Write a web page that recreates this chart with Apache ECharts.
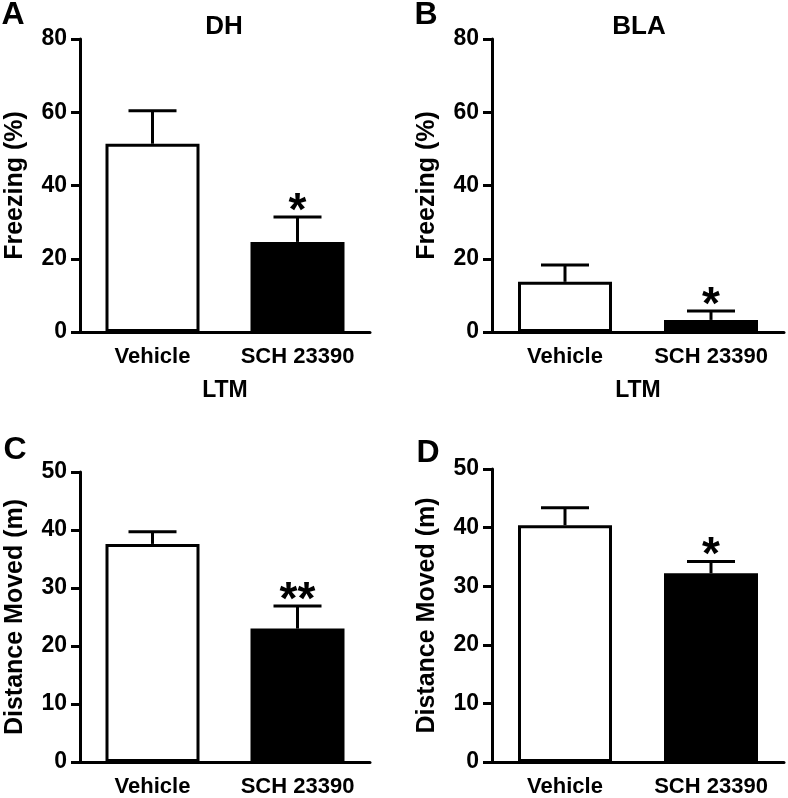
<!DOCTYPE html>
<html><head><meta charset="utf-8">
<script src="https://cdn.jsdelivr.net/npm/echarts@6/dist/echarts.min.js"></script>
<style>html,body{margin:0;padding:0;background:#fff}#c{width:788px;height:798px}</style>
</head><body><div id="c"></div>
<script>
const categories = ['Vehicle', 'SCH 23390'];
const dhFreezeMean = [51.4, 24.6];
const dhFreezeSem = [9.0, 6.8];
const blaFreezeMean = [13.7, 3.3];
const blaFreezeSem = [4.6, 2.4];
const dhDistMean = [37.6, 23.0];
const dhDistSem = [2.1, 3.9];
const blaDistMean = [40.4, 32.2];
const blaDistSem = [3.0, 2.0];
const sigA = ['', '*'];
const sigB = ['', '*'];
const sigC = ['', '**'];
const sigD = ['', '*'];
const freezeTicks = {min: 0, max: 80, interval: 20};
const distTicks = {min: 0, max: 50, interval: 10};

const FONT = "'Liberation Sans', Arial, sans-serif";
const grids = [
  {left: 80, right: 418, top: 39, bottom: 466},
  {left: 492, right: 4, top: 39, bottom: 466},
  {left: 80, right: 418, top: 472, bottom: 35},
  {left: 492, right: 4, top: 469, bottom: 35}
];
const panels = [
  {mean: dhFreezeMean, sem: dhFreezeSem, sig: sigA, ticks: freezeTicks, yName: 'Freezing (%)', xName: 'LTM'},
  {mean: blaFreezeMean, sem: blaFreezeSem, sig: sigB, ticks: freezeTicks, yName: 'Freezing (%)', xName: 'LTM'},
  {mean: dhDistMean, sem: dhDistSem, sig: sigC, ticks: distTicks, yName: 'Distance Moved (m)', xName: ''},
  {mean: blaDistMean, sem: blaDistSem, sig: sigD, ticks: distTicks, yName: 'Distance Moved (m)', xName: ''}
];

const xAxes = [], yAxes = [], series = [];
panels.forEach((p, i) => {
  xAxes.push({
    type: 'category', gridIndex: i, data: categories,
    axisLine: {lineStyle: {color: '#000', width: 3}},
    axisTick: {show: false},
    axisLabel: {interval: 0, hideOverlap: false, color: '#000', fontFamily: FONT, fontWeight: 'bold', fontSize: 22, margin: 14},
    name: p.xName, nameLocation: 'middle', nameGap: 47,
    nameTextStyle: {color: '#000', fontFamily: FONT, fontWeight: 'bold', fontSize: 23}
  });
  yAxes.push({
    type: 'value', gridIndex: i, min: p.ticks.min, max: p.ticks.max, interval: p.ticks.interval,
    splitLine: {show: false},
    axisLine: {show: true, lineStyle: {color: '#000', width: 3}},
    axisTick: {show: true, length: 9, lineStyle: {color: '#000', width: 3}},
    axisLabel: {color: '#000', fontFamily: FONT, fontWeight: 'bold', fontSize: 23, margin: 13},
    name: p.yName, nameLocation: 'middle', nameRotate: 90, nameGap: 52,
    nameTextStyle: {color: '#000', fontFamily: FONT, fontWeight: 'bold', fontSize: 25}
  });
  series.push({
    type: 'bar', xAxisIndex: i, yAxisIndex: i, barWidth: 94,
    data: p.mean.map((v, k) => ({
      value: v,
      itemStyle: {color: k === 0 ? '#fff' : '#000', borderColor: '#000', borderWidth: 3}
    }))
  });
  series.push({
    type: 'custom', xAxisIndex: i, yAxisIndex: i, z: 3,
    data: p.mean.map((v, k) => [k, v, p.sem[k]]),
    renderItem: function (params, api) {
      const x = api.value(0), y = api.value(1), e = api.value(2);
      const b = api.coord([x, y]);
      const t = api.coord([x, y + e]);
      const hw = 24;
      return {type: 'group', children: [
        {type: 'line', shape: {x1: b[0], y1: b[1], x2: t[0], y2: t[1]}, style: {stroke: '#000', lineWidth: 3}},
        {type: 'line', shape: {x1: t[0] - hw, y1: t[1], x2: t[0] + hw, y2: t[1]}, style: {stroke: '#000', lineWidth: 3}}
      ]};
    }
  });
  series.push({
    type: 'scatter', xAxisIndex: i, yAxisIndex: i, symbolSize: 0, silent: true,
    itemStyle: {opacity: 1, color: '#000'},
    data: p.mean.map((v, k) => ({value: [k, v + p.sem[k]], sig: p.sig[k]})).filter(d => d.sig),
    label: {
      show: true, position: 'top', distance: -18,
      formatter: function (d) { return d.data.sig; },
      color: '#000', opacity: 1, fontFamily: FONT, fontWeight: 'bold', fontSize: 46
    }
  });
});

const txt = (text, x, y, size) => ({
  type: 'text', x: x, y: y,
  style: {text: text, fill: '#000', font: 'bold ' + size + 'px ' + FONT, textAlign: 'center', textVerticalAlign: 'middle'}
});

const chart = echarts.init(document.getElementById('c'));
chart.setOption({
  animation: false,
  backgroundColor: '#fff',
  grid: grids,
  xAxis: xAxes,
  yAxis: yAxes,
  series: series,
  graphic: [
    txt('A', 13, 15, 32),
    txt('B', 426, 15, 32),
    txt('C', 15, 450, 32),
    txt('D', 428, 453, 32),
    txt('DH', 224, 27, 26),
    txt('BLA', 639, 27, 26)
  ]
});
</script></body></html>
